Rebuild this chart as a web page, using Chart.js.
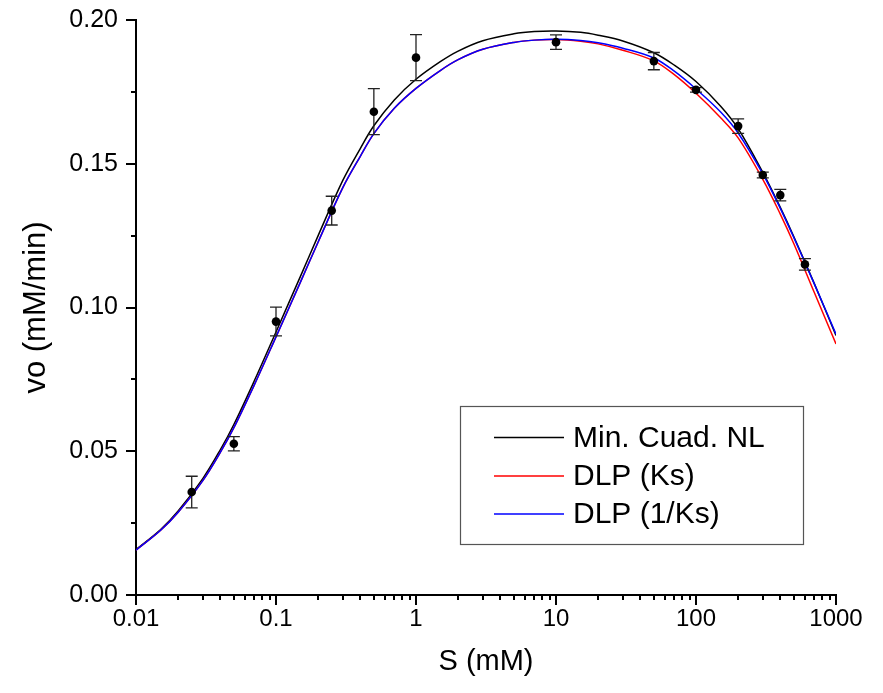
<!DOCTYPE html>
<html>
<head>
<meta charset="utf-8">
<script src="https://cdn.jsdelivr.net/npm/chart.js@4/dist/chart.umd.min.js"></script>
<style>
html,body{margin:0;padding:0;background:#fff;}
#wrap{width:883px;height:693px;position:relative;}
</style>
</head>
<body>
<div id="wrap"><canvas id="c" width="883" height="693"></canvas></div>
<script>
// ---- data ----
const substrate = [0.025, 0.05, 0.1, 0.25, 0.5, 1, 10, 50, 100, 200, 300, 400, 600];
const rate      = [0.0358, 0.0526, 0.0951, 0.1337, 0.1681, 0.1869, 0.1923, 0.1857, 0.1757, 0.1631, 0.1461, 0.1391, 0.1150];
const rateErr   = [0.0055, 0.0025, 0.0050, 0.0050, 0.0080, 0.0080, 0.0025, 0.0030, 0.0008, 0.0025, 0.0010, 0.0020, 0.0020];

const curveS = [0.01, 0.015, 0.02, 0.03, 0.04, 0.05, 0.07, 0.1, 0.15, 0.2, 0.3, 0.4, 0.5, 0.7, 1, 1.5, 2, 3, 5, 7,
                10, 15, 20, 30, 50, 70, 100, 150, 200, 300, 400, 500, 700, 1000];
const fitMinCuadNL = [0.0158, 0.0228, 0.0292, 0.0405, 0.0505, 0.0593, 0.0745, 0.0915, 0.1110, 0.1250, 0.1442, 0.1553, 0.1632, 0.1722, 0.1794, 0.1856, 0.1892, 0.1928, 0.1952, 0.1960,
                      0.1962, 0.1957, 0.1947, 0.1927, 0.1886, 0.1843, 0.1786, 0.1700, 0.1622, 0.1470, 0.1348, 0.1246, 0.1083, 0.0903];
const fitDlpKs     = [0.0156, 0.0225, 0.0288, 0.0398, 0.0496, 0.0582, 0.0731, 0.0898, 0.1090, 0.1228, 0.1417, 0.1526, 0.1605, 0.1693, 0.1762, 0.1825, 0.1862, 0.1898, 0.1922, 0.1930,
                      0.1932, 0.1926, 0.1917, 0.1895, 0.1858, 0.1810, 0.1745, 0.1660, 0.1590, 0.1446, 0.1325, 0.1222, 0.1052, 0.0873];
const fitDlpInvKs  = [0.0156, 0.0225, 0.0288, 0.0398, 0.0496, 0.0582, 0.0731, 0.0898, 0.1090, 0.1228, 0.1417, 0.1526, 0.1605, 0.1693, 0.1762, 0.1825, 0.1862, 0.1898, 0.1922, 0.1930,
                      0.1933, 0.1929, 0.1921, 0.1902, 0.1868, 0.1822, 0.1760, 0.1680, 0.1607, 0.1465, 0.1345, 0.1243, 0.1082, 0.0907];

const seriesNames = ['Min. Cuad. NL', 'DLP (Ks)', 'DLP (1/Ks)'];
const xTickValues = [0.01, 0.1, 1, 10, 100, 1000];
const xTickLabels = ['0.01', '0.1', '1', '10', '100', '1000'];
const yTickValues = [0, 0.05, 0.10, 0.15, 0.20];
const yTickLabels = ['0.00', '0.05', '0.10', '0.15', '0.20'];
const xTitle = 'S (mM)';
const yTitle = 'vo (mM/min)';

// ---- styling ----
const FONT = "'Liberation Sans', Arial, sans-serif";
const toXY = (xs, ys) => xs.map((x, i) => ({x: x, y: ys[i]}));

const tickMarks = {
  id: 'tickMarks',
  afterDraw(chart) {
    const ctx = chart.ctx, xs = chart.scales.x, ys = chart.scales.y;
    const area = chart.chartArea;
    ctx.save();
    ctx.strokeStyle = '#000';
    ctx.lineWidth = 2;
    ctx.beginPath();
    for (let d = 0; d < xTickValues.length; d++) {
      const dec = xTickValues[d];
      const px = Math.round(xs.getPixelForValue(dec));
      ctx.moveTo(px, area.bottom); ctx.lineTo(px, area.bottom + 10);
      if (d < xTickValues.length - 1) {
        for (let m = 2; m <= 9; m++) {
          const p = Math.round(xs.getPixelForValue(dec * m));
          ctx.moveTo(p, area.bottom); ctx.lineTo(p, area.bottom + 5);
        }
      }
    }
    for (let i = 0; i < yTickValues.length; i++) {
      const py = Math.round(ys.getPixelForValue(yTickValues[i]));
      ctx.moveTo(area.left, py); ctx.lineTo(area.left - 10, py);
      if (i < yTickValues.length - 1) {
        const mid = (yTickValues[i] + yTickValues[i + 1]) / 2;
        const pm = Math.round(ys.getPixelForValue(mid));
        ctx.moveTo(area.left, pm); ctx.lineTo(area.left - 5, pm);
      }
    }
    ctx.stroke();
    ctx.restore();
  }
};

const errorBars = {
  id: 'errorBars',
  afterDatasetsDraw(chart) {
    const ctx = chart.ctx, xs = chart.scales.x, ys = chart.scales.y;
    ctx.save();
    ctx.strokeStyle = '#222';
    ctx.lineWidth = 1.3;
    ctx.beginPath();
    for (let i = 0; i < substrate.length; i++) {
      const px = xs.getPixelForValue(substrate[i]);
      const top = ys.getPixelForValue(rate[i] + rateErr[i]);
      const bot = ys.getPixelForValue(rate[i] - rateErr[i]);
      ctx.moveTo(px, top); ctx.lineTo(px, bot);
      ctx.moveTo(px - 6, top); ctx.lineTo(px + 6, top);
      ctx.moveTo(px - 6, bot); ctx.lineTo(px + 6, bot);
    }
    ctx.stroke();
    ctx.fillStyle = '#000';
    for (let i = 0; i < substrate.length; i++) {
      const px = xs.getPixelForValue(substrate[i]);
      const py = ys.getPixelForValue(rate[i]);
      ctx.beginPath(); ctx.arc(px, py, 4.3, 0, Math.PI * 2); ctx.fill();
    }
    ctx.restore();
  }
};

const boxLegend = {
  id: 'boxLegend',
  afterDraw(chart) {
    const ctx = chart.ctx;
    const bx = 460, by = 406, bw = 343, bh = 138;
    ctx.save();
    ctx.strokeStyle = '#555';
    ctx.lineWidth = 1.2;
    ctx.strokeRect(bx + 0.5, by + 0.5, bw, bh);
    const rows = [437.5, 476, 514];
    ctx.font = '30px ' + FONT;
    ctx.textBaseline = 'middle';
    ctx.textAlign = 'left';
    seriesNames.forEach((name, r) => {
      const ds = chart.data.datasets.find(d => d.label === name);
      ctx.strokeStyle = ds.borderColor;
      ctx.lineWidth = 1.6;
      ctx.beginPath(); ctx.moveTo(494, rows[r]); ctx.lineTo(564, rows[r]); ctx.stroke();
      ctx.fillStyle = '#000';
      ctx.fillText(ds.label, 573, rows[r] + 1);
    });
    ctx.restore();
  }
};

new Chart(document.getElementById('c'), {
  type: 'line',
  data: {
    datasets: [
      { label: seriesNames[2], data: toXY(curveS, fitDlpInvKs), borderColor: '#0000ff', borderWidth: 1.5, pointRadius: 0, fill: false, tension: 0.35, order: 1 },
      { label: seriesNames[1], data: toXY(curveS, fitDlpKs), borderColor: '#ff0000', borderWidth: 1.5, pointRadius: 0, fill: false, tension: 0.35, order: 2 },
      { label: seriesNames[0], data: toXY(curveS, fitMinCuadNL), borderColor: '#000000', borderWidth: 1.5, pointRadius: 0, fill: false, tension: 0.35, order: 3 }
    ]
  },
  options: {
    responsive: false,
    animation: false,
    devicePixelRatio: 1,
    layout: { padding: { top: 20, right: 47, left: 0, bottom: 0 } },
    plugins: { legend: { display: false }, tooltip: { enabled: false } },
    scales: {
      x: {
        type: 'logarithmic',
        min: 0.01, max: 1000,
        afterBuildTicks: s => { s.ticks = xTickValues.map(v => ({ value: v })); },
        afterFit: s => { s.height = 98; },
        ticks: {
          autoSkip: false, maxRotation: 0, minRotation: 0,
          color: '#000', padding: 10,
          font: { family: FONT, size: 24 },
          callback: (v, i) => xTickLabels[i]
        },
        grid: { display: false, drawTicks: false },
        border: { display: true, color: '#000', width: 2 },
        title: { display: true, text: xTitle, color: '#000', font: { family: FONT, size: 29 }, padding: { top: 0, bottom: 14 } }
      },
      y: {
        type: 'linear',
        min: 0, max: 0.2,
        afterBuildTicks: s => { s.ticks = yTickValues.map(v => ({ value: v })); },
        afterFit: s => { s.width = 136; },
        ticks: {
          color: '#000', padding: 2,
          font: { family: FONT, size: 25 },
          callback: (v, i) => yTickLabels[i]
        },
        grid: { display: false, drawTicks: true, tickLength: 16, tickColor: 'rgba(0,0,0,0)' },
        border: { display: true, color: '#000', width: 2 },
        title: { display: true, text: yTitle, color: '#000', font: { family: FONT, size: 31 }, padding: { top: 18, bottom: 0 } }
      }
    }
  },
  plugins: [tickMarks, errorBars, boxLegend]
});
</script>
</body>
</html>
